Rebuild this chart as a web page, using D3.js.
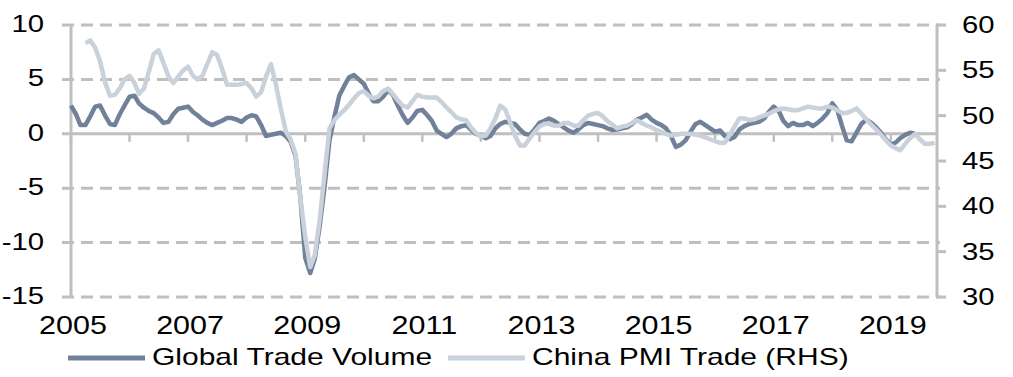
<!DOCTYPE html>
<html>
<head>
<meta charset="utf-8">
<script src="https://cdn.jsdelivr.net/npm/d3@7"></script>
<style>
  html, body { margin: 0; padding: 0; background: #fff; }
  svg { display: block; font-family: "Liberation Sans", Arial, sans-serif; }
</style>
</head>
<body>
<div id="chart"></div>
<script>
// Global trade volume (lhs), monthly from Jan 2005
const gtvStart = [2005, 0];
const gtvValues = [
  2.6, 1.8, 0.8, 0.8, 1.6, 2.5, 2.6, 1.7, 0.9, 0.8, 1.8, 2.6,
  3.4, 3.5, 2.8, 2.4, 2.1, 1.9, 1.5, 1.0, 1.1, 1.8, 2.3, 2.4,
  2.5, 2.0, 1.7, 1.3, 1.0, 0.8, 1.0, 1.2, 1.45, 1.45, 1.3, 1.1,
  1.5, 1.7, 1.6, 0.8, -0.2, -0.1, 0.0, 0.1, -0.2, -0.7, -2.0, -5.8,
  -11.4, -12.8, -11.5, -8.5, -4.9, -0.6, 1.5, 3.5, 4.4, 5.2, 5.4, 5.0,
  4.6, 3.7, 3.0, 3.0, 3.4, 4.0, 3.6, 2.6, 1.7, 1.0, 1.5, 2.1,
  2.2, 1.7, 1.2, 0.3, 0.0, -0.3, 0.0, 0.5, 0.7, 0.8, 0.4, 0.0,
  -0.2, -0.4, -0.2, 0.5, 0.9, 1.1, 1.0, 0.9, 0.4, 0.0, -0.1, 0.4,
  1.0, 1.2, 1.4, 1.2, 0.9, 0.6, 0.3, 0.1, 0.4, 0.8, 1.0, 0.9,
  0.8, 0.7, 0.5, 0.35, 0.4, 0.5, 0.6, 0.9, 1.3, 1.5, 1.75, 1.3,
  1.0, 0.8, 0.5, -0.2, -1.2, -1.0, -0.6, 0.2, 0.9, 1.1, 0.8, 0.5,
  0.2, 0.3, -0.2, -0.5, -0.3, 0.4, 0.7, 0.9, 1.0, 1.1, 1.4, 2.0,
  2.5, 2.1, 1.2, 0.7, 1.0, 0.8, 0.8, 1.0, 0.7, 1.0, 1.4, 1.9,
  2.8, 2.2, 0.8, -0.6, -0.7, 0.1, 0.9, 1.3, 1.0, 0.6, 0.1, -0.5,
  -1.0, -0.8, -0.4, -0.1, 0.1, 0.0
];

// China PMI new export orders (rhs), monthly from Apr 2005
const pmiStart = [2005, 3];
const pmiValues = [
  58.0, 58.3, 57.5, 56.0, 53.7, 52.2, 52.3, 53.0, 54.0,
  54.4, 53.6, 52.4, 53.0, 54.8, 56.8, 57.2, 55.8, 54.3, 53.6, 54.3, 55.0,
  55.4, 54.4, 54.0, 54.4, 55.7, 57.0, 56.7, 55.2, 53.4, 53.4, 53.4, 53.5,
  53.6, 53.0, 52.1, 52.6, 54.3, 55.7, 53.5, 50.8, 48.3, 47.4, 45.8, 41.0,
  36.6, 33.3, 34.6, 38.5, 43.5, 48.6, 49.5, 50.1, 50.6, 51.2, 51.9, 52.5,
  52.7, 52.2, 51.9, 52.1, 52.7, 53.0, 52.4, 51.7, 51.1, 50.9, 51.6, 52.3,
  52.1, 52.0, 52.0, 52.0, 51.5, 50.9, 50.4, 49.8, 49.6, 49.5, 48.7, 48.1,
  47.7, 47.8, 48.6, 49.7, 51.1, 50.7, 49.3, 47.8, 46.7, 46.7, 47.5, 48.2,
  48.8, 49.1, 49.1, 48.9, 48.9, 49.2, 49.2, 48.9, 48.9, 49.5, 50.0, 50.2,
  50.3, 49.9, 49.4, 49.0, 48.6, 48.8, 48.9, 49.2, 49.5, 49.2, 48.9, 48.7,
  48.4, 48.2, 48.0, 47.8, 47.9, 48.0, 48.0, 48.0, 47.9, 47.8, 47.6, 47.4,
  47.2, 47.0, 47.0, 47.9, 48.8, 49.7, 49.7, 49.5, 49.6, 49.8, 50.0, 50.2,
  50.5, 50.7, 50.8, 50.7, 50.6, 50.6, 50.8, 51.0, 50.9, 50.8, 50.8, 51.0,
  50.9, 50.6, 50.3, 50.3, 50.5, 50.8, 50.2, 49.6, 49.0, 48.5, 47.9, 47.3,
  46.7, 46.4, 46.2, 46.9, 47.5, 48.0, 47.4, 46.9, 46.9, 47.0
];

const leftTicks = [10, 5, 0, -5, -10, -15];
const rightTicks = [60, 55, 50, 45, 40, 35, 30];
const yearLabels = [2005, 2007, 2009, 2011, 2013, 2015, 2017, 2019];
const seriesNames = ["Global Trade Volume", "China PMI Trade (RHS)"];
const seriesColors = ["#71819a", "#c9d1db"];

const width = 1013, height = 377;
const plotLeft = 71, plotRight = 937, plotTop = 25, plotBottom = 297;

const toSeries = (start, values) =>
  values.map((v, i) => ({ date: new Date(start[0], start[1] + i, 1), value: v }));
const gtv = toSeries(gtvStart, gtvValues);
const pmi = toSeries(pmiStart, pmiValues);

const x = d3.scaleTime()
  .domain([new Date(2005, 0, 1), new Date(2019, 9, 16)])
  .range([plotLeft, plotRight]);
const yL = d3.scaleLinear().domain([-15, 10]).range([plotBottom, plotTop]);
const yR = d3.scaleLinear().domain([30, 60]).range([plotBottom, plotTop]);

const svg = d3.select("#chart").append("svg")
  .attr("width", width)
  .attr("height", height);

const grey = "#bfbfbf";

// dashed gridlines (lhs ticks), zero line solid
svg.append("g").selectAll("line")
  .data(leftTicks.filter(d => d !== 0))
  .enter().append("line")
  .attr("x1", plotLeft - 9).attr("x2", plotRight + 3)
  .attr("y1", d => yL(d)).attr("y2", d => yL(d))
  .attr("stroke", grey).attr("stroke-width", 3)
  .attr("stroke-dasharray", "12,7");

// axis lines
svg.append("line")
  .attr("x1", plotLeft).attr("x2", plotLeft).attr("y1", plotTop).attr("y2", plotBottom)
  .attr("stroke", grey).attr("stroke-width", 3);
svg.append("line")
  .attr("x1", plotRight).attr("x2", plotRight).attr("y1", plotTop).attr("y2", plotBottom)
  .attr("stroke", grey).attr("stroke-width", 3);

// right ticks
svg.append("g").selectAll("line")
  .data(rightTicks)
  .enter().append("line")
  .attr("x1", plotRight).attr("x2", plotRight + 9)
  .attr("y1", d => yR(d)).attr("y2", d => yR(d))
  .attr("stroke", grey).attr("stroke-width", 3);

// zero line with year ticks
svg.append("line")
  .attr("x1", plotLeft - 9).attr("x2", plotRight)
  .attr("y1", yL(0)).attr("y2", yL(0))
  .attr("stroke", grey).attr("stroke-width", 3);
svg.append("g").selectAll("line")
  .data(x.ticks(d3.timeYear.every(1)))
  .enter().append("line")
  .attr("x1", d => x(d)).attr("x2", d => x(d))
  .attr("y1", yL(0)).attr("y2", yL(0) + 8)
  .attr("stroke", grey).attr("stroke-width", 2.5);

// lines
const lineL = d3.line().x(d => x(d.date)).y(d => yL(d.value));
const lineR = d3.line().x(d => x(d.date)).y(d => yR(d.value));
svg.append("path").datum(gtv)
  .attr("d", lineL).attr("fill", "none")
  .attr("stroke", seriesColors[0]).attr("stroke-width", 4.5)
  .attr("stroke-linejoin", "round");
svg.append("path").datum(pmi)
  .attr("d", lineR).attr("fill", "none")
  .attr("stroke", seriesColors[1]).attr("stroke-width", 4.5)
  .attr("stroke-linejoin", "round");

// labels in the picture are drawn a bit wide, hence the x scale
function label(g, tx, ty, txt, anchor, size, sx) {
  g.append("text")
    .attr("transform", `translate(${tx},${ty}) scale(${sx},1)`)
    .attr("text-anchor", anchor)
    .attr("font-size", size)
    .attr("fill", "#000")
    .text(txt);
}

const labels = svg.append("g");
leftTicks.forEach(d => label(labels, 44, yL(d) + 7, d, "end", 24, 1.22));
rightTicks.forEach(d => label(labels, 962, yR(d) + 8, d, "start", 24, 1.22));
yearLabels.forEach(yr => label(labels, x(new Date(yr, 0, 1)) + 2, 334, yr, "middle", 25, 1.22));

// legend
const lg = svg.append("g");
[[68, 152], [448, 532]].forEach((p, i) => {
  lg.append("line")
    .attr("x1", p[0]).attr("x2", p[0] + 77)
    .attr("y1", 358).attr("y2", 358)
    .attr("stroke", seriesColors[i]).attr("stroke-width", 5);
  label(lg, p[1], 365, seriesNames[i], "start", 24, 1.25);
});
</script>
</body>
</html>
